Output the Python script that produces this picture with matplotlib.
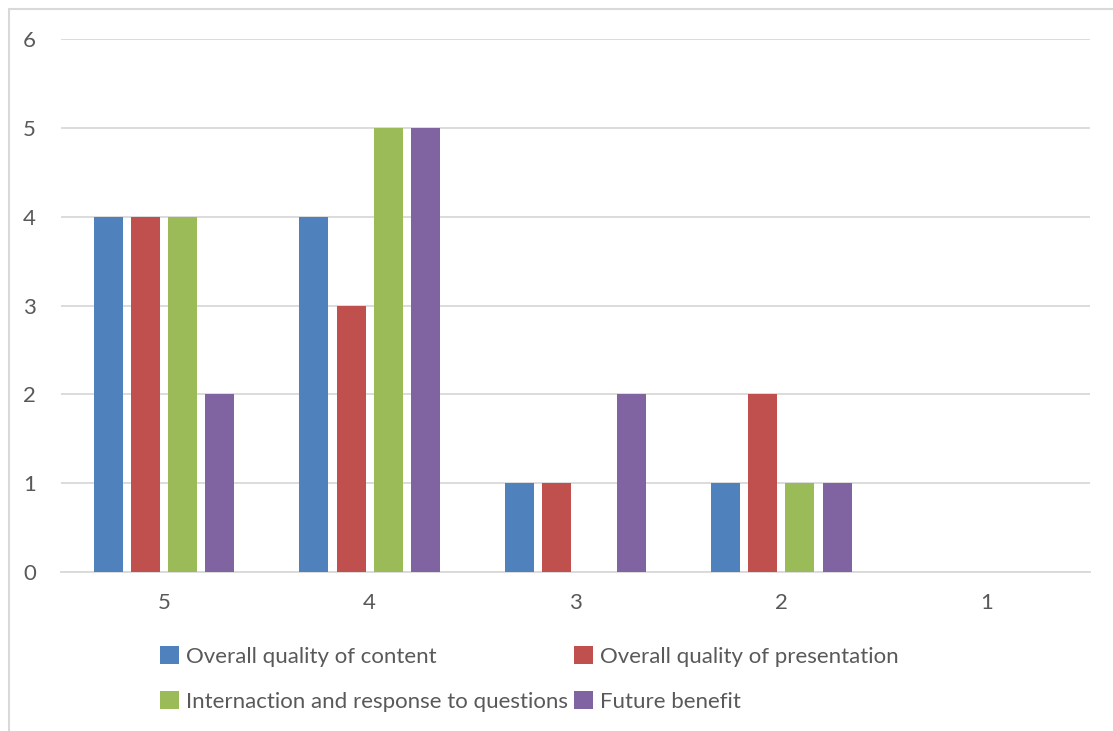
import matplotlib
matplotlib.use("Agg")
import matplotlib.pyplot as plt
from matplotlib.patches import Rectangle
import numpy as np

categories = ["5", "4", "3", "2", "1"]
series_names = [
    "Overall quality of content",
    "Overall quality of presentation",
    "Internaction and response to questions",
    "Future benefit",
]
content = [4, 4, 1, 1, 0]
presentation = [4, 3, 1, 2, 0]
interaction = [4, 5, 0, 1, 0]
future = [2, 5, 2, 1, 0]
yticks = [0, 1, 2, 3, 4, 5, 6]

colors = ["#4F81BD", "#C0504D", "#9BBB59", "#8064A2"]
text_color = "#595959"
grid_color = "#D9D9D9"

plt.rcParams["font.family"] = ["Lato", "DejaVu Sans"]

W, H = 1113, 731
fig = plt.figure(figsize=(W / 100, H / 100), dpi=100)
fig.patch.set_facecolor("white")

# chart area border
fig.patches.append(Rectangle((9 / W, -0.01), 1.1, 1 - 9 / H + 0.01,
                             transform=fig.transFigure, fill=False,
                             edgecolor=grid_color, linewidth=1.5))

ax = fig.add_axes([61 / W, 1 - 572 / H, (1090 - 61) / W, (572 - 39) / H])

x = np.arange(len(categories))
step = 0.181
width = 0.141
all_series = [content, presentation, interaction, future]
handles = []
for i, (vals, c) in enumerate(zip(all_series, colors)):
    h = ax.bar(x + (i - 1.5) * step, vals, width, color=c, label=series_names[i], zorder=3)
    handles.append(h)

ax.set_xlim(-0.5, len(categories) - 0.5)
ax.set_ylim(0, 6)
ax.set_yticks(yticks)
ax.set_xticks(x)
ax.set_xticklabels(categories)
ax.yaxis.grid(True, color=grid_color, linewidth=1.3, zorder=0)
for s in ["top", "right", "left"]:
    ax.spines[s].set_visible(False)
ax.spines["bottom"].set_color(grid_color)
ax.spines["bottom"].set_linewidth(1.3)
ax.tick_params(axis="both", length=0, labelsize=16, colors=text_color)
ax.tick_params(axis="x", pad=15)
ax.tick_params(axis="y", pad=18)

# legend entries laid out row by row
order = [0, 2, 1, 3]
leg = fig.legend([handles[i] for i in order], [series_names[i] for i in order],
                 loc="upper left", bbox_to_anchor=(160 / W, 1 - 646 / H), ncol=2,
                 frameon=False, fontsize=16, handlelength=0.85, handleheight=0.85,
                 handletextpad=0.3, columnspacing=0.3, labelspacing=1.1,
                 labelcolor=text_color, borderpad=0, borderaxespad=0)

fig.savefig("out.png", dpi=100)
